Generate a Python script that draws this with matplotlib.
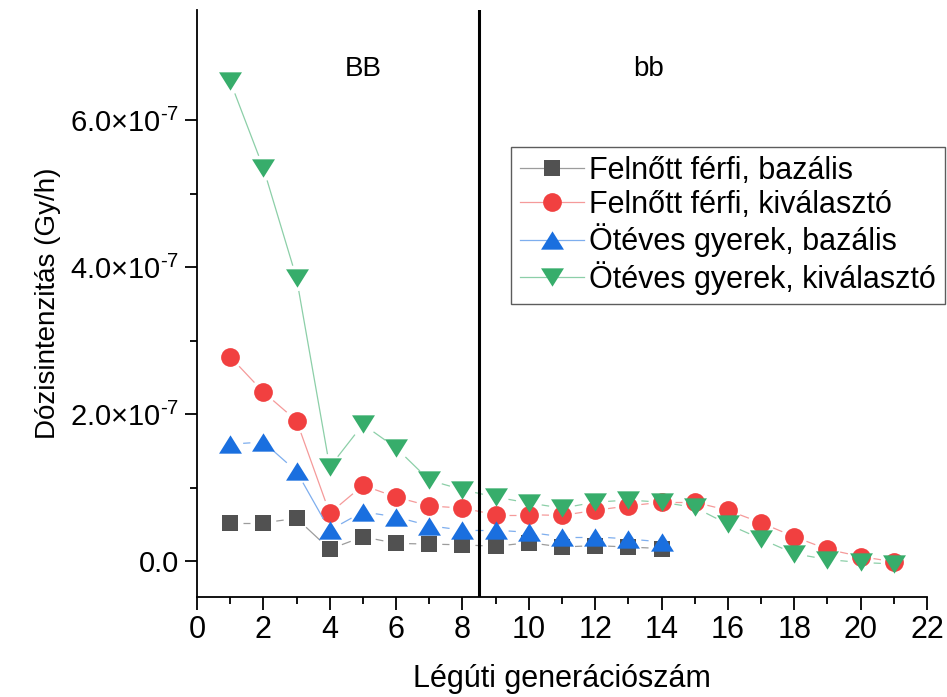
import numpy as np
import matplotlib
matplotlib.use("Agg")
import matplotlib.pyplot as plt
from matplotlib.path import Path
from matplotlib.lines import Line2D
from matplotlib.collections import LineCollection
from matplotlib import font_manager

plt.rcParams['font.family'] = ['Liberation Sans', 'DejaVu Sans']
plt.rcParams['mathtext.fontset'] = 'custom'
plt.rcParams['mathtext.rm'] = 'Liberation Sans'
plt.rcParams['mathtext.it'] = 'Liberation Sans:italic'

# airway generation numbers
gen_short = [1, 2, 3, 4, 5, 6, 7, 8, 9, 10, 11, 12, 13, 14]
gen_long = [1, 2, 3, 4, 5, 6, 7, 8, 9, 10, 11, 12, 13, 14, 15, 16, 17, 18, 19, 20, 21]

# dose rates, units of 1e-7 Gy/h
ff_bazalis = [0.52, 0.52, 0.58, 0.16, 0.33, 0.24, 0.23, 0.22, 0.20, 0.25, 0.19, 0.21, 0.19, 0.17]
ff_kivalaszto = [2.78, 2.30, 1.91, 0.65, 1.03, 0.87, 0.75, 0.72, 0.63, 0.63, 0.62, 0.69, 0.75, 0.80,
                 0.80, 0.69, 0.52, 0.33, 0.16, 0.06, -0.01]
gy_bazalis = [1.59, 1.62, 1.22, 0.42, 0.67, 0.60, 0.48, 0.42, 0.42, 0.39, 0.33, 0.33, 0.30, 0.26]
gy_kivalaszto = [6.53, 5.35, 3.85, 1.28, 1.86, 1.54, 1.10, 0.97, 0.87, 0.79, 0.72, 0.80, 0.83, 0.80,
                 0.73, 0.50, 0.30, 0.10, 0.02, -0.02, -0.04]

labels = ["Felnőtt férfi, bazális", "Felnőtt férfi, kiválasztó",
          "Ötéves gyerek, bazális", "Ötéves gyerek, kiválasztó"]
ytick_vals = [0, 2e-7, 4e-7, 6e-7]
ytick_text = ['0.0',
              r'$\mathregular{2.0{\times}10^{\text{-}7}}$',
              r'$\mathregular{4.0{\times}10^{\text{-}7}}$',
              r'$\mathregular{6.0{\times}10^{\text{-}7}}$']

tri_up = Path([(-1, -0.8), (1, -0.8), (0, 0.8), (-1, -0.8)],
              [Path.MOVETO, Path.LINETO, Path.LINETO, Path.CLOSEPOLY])
tri_down = Path([(-1, 0.8), (1, 0.8), (0, -0.8), (-1, 0.8)],
                [Path.MOVETO, Path.LINETO, Path.LINETO, Path.CLOSEPOLY])

series = [
    (gen_short, ff_bazalis, '#515151', '#9c9c9c', 's', 12),
    (gen_long, ff_kivalaszto, '#f14040', '#f59a9a', 'o', 13.5),
    (gen_short, gy_bazalis, '#1a6fdf', '#7eaeee', tri_up, 16.5),
    (gen_long, gy_kivalaszto, '#37ad6b', '#8ccfa8', tri_down, 16.5),
]

W, H = 947, 697
fig = plt.figure(figsize=(W / 100, H / 100), dpi=100)
ax = fig.add_axes([197 / W, 1 - 597 / H, (927 - 197) / W, (597 - 10) / H])
ax.set_xlim(0, 22)
ax.set_ylim(-0.49e-7, 7.5e-7)

for s in ['top', 'right']:
    ax.spines[s].set_visible(False)
for s in ['left', 'bottom']:
    ax.spines[s].set_linewidth(1.3)

# connecting lines stop short of each marker, leaving a small gap
gap = 13
handles = []
for i, (xs, ys, col, lcol, mk, ms) in enumerate(series):
    yv = np.array(ys) * 1e-7
    pts = ax.transData.transform(np.column_stack([xs, yv]))
    segs = []
    for a, b in zip(pts[:-1], pts[1:]):
        d = b - a
        L = np.hypot(*d)
        if L <= 2 * gap:
            continue
        u = d / L
        seg = ax.transData.inverted().transform(np.array([a + u * gap, b - u * gap]))
        segs.append(seg)
    ax.add_collection(LineCollection(segs, colors=lcol, linewidths=0.9, zorder=2 + i))
    ax.plot(xs, yv, linestyle='none', marker=mk, markersize=ms, color=col,
            markeredgewidth=0, zorder=2.5 + i)
    handles.append(Line2D([], [], color=lcol, linewidth=0.9, marker=mk, markersize=ms,
                          markerfacecolor=col, markeredgewidth=0))

ax.axvline(8.5, color='black', linewidth=2.2, zorder=10)

ax.text(5, 6.7e-7, "BB", fontsize=20, ha='center', va='center')
ax.text(13.6, 6.7e-7, "bb", fontsize=20, ha='center', va='center')

ax.set_xticks(np.arange(0, 23, 2))
ax.set_xticks(np.arange(1, 22, 2), minor=True)
ax.set_yticks(ytick_vals)
ax.set_yticks([1e-7, 3e-7, 5e-7], minor=True)
ax.set_yticklabels(ytick_text)
ax.tick_params(which='major', direction='out', length=9, width=1.3, labelsize=21, pad=4)
ax.tick_params(which='minor', direction='out', length=5, width=1.3)

avail = {f.name for f in font_manager.fontManager.ttflist}
narrow = 'Liberation Sans Narrow' if 'Liberation Sans Narrow' in avail else 'Liberation Sans'
for t in ax.get_xticklabels():
    t.set_family(narrow)
    t.set_fontsize(22)

ax.set_xlabel("Légúti generációszám", fontsize=22, family=narrow, labelpad=14)
ax.set_ylabel("Dózisintenzitás (Gy/h)", fontsize=20, labelpad=6)

leg = fig.legend(handles, labels, loc='upper left',
                 bbox_to_anchor=(511 / W, 1 - 147 / H), fontsize=22,
                 frameon=True, fancybox=False, borderpad=0.3, labelspacing=0.12,
                 handlelength=2.1, handletextpad=0.15, borderaxespad=0)
leg.get_frame().set_edgecolor('#333333')
leg.get_frame().set_linewidth(1.0)

fig.savefig("out.png", dpi=100)
